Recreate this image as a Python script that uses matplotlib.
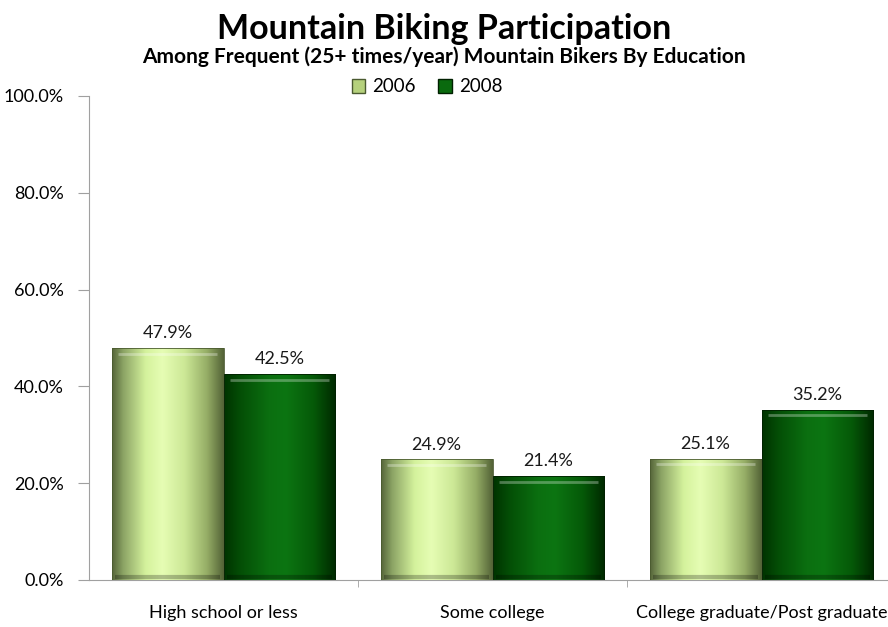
import matplotlib
matplotlib.use("Agg")
import matplotlib.pyplot as plt
import numpy as np
from matplotlib.colors import LinearSegmentedColormap
from matplotlib.patches import Patch

categories = ["High school or less", "Some college", "College graduate/Post graduate"]
years = ["2006", "2008"]
values_2006 = [47.9, 24.9, 25.1]
values_2008 = [42.5, 21.4, 35.2]
yticks = [0, 20, 40, 60, 80, 100]

plt.rcParams['font.family'] = ['Lato', 'DejaVu Sans']

fig = plt.figure(figsize=(8.88, 6.27), dpi=100)
ax = fig.add_axes([89/888, 1-580/627, 807/888, 484/627])

x = np.arange(len(categories))
w = 0.416

cmap06 = LinearSegmentedColormap.from_list("c06", [
    (0.0, "#55653a"), (0.1, "#8ca465"), (0.3, "#d4f29c"), (0.45, "#e6fdb4"),
    (0.65, "#cce896"), (0.85, "#95ad66"), (1.0, "#536236")])
cmap08 = LinearSegmentedColormap.from_list("c08", [
    (0.0, "#003300"), (0.15, "#044f06"), (0.4, "#0b6f10"), (0.55, "#0c7512"),
    (0.8, "#055a08"), (1.0, "#002800")])

grad = np.linspace(0, 1, 256).reshape(1, -1)

def draw(xpos, vals, cmap, edge):
    bars = ax.bar(xpos, vals, w, color="none", edgecolor=edge, linewidth=0.6, zorder=3)
    for b in bars:
        x0, y0 = b.get_x(), b.get_y()
        bw, bh = b.get_width(), b.get_height()
        im = ax.imshow(grad, cmap=cmap, aspect="auto", extent=[x0, x0+bw, y0, y0+bh],
                       zorder=2, interpolation="bicubic")
        im.set_clip_path(b)
        ax.plot([x0+bw*0.06, x0+bw*0.94], [y0+bh-1.2, y0+bh-1.2], color="white",
                alpha=0.3, lw=2, zorder=4, solid_capstyle="butt")
        ax.plot([x0+bw*0.03, x0+bw*0.97], [y0+0.6, y0+0.6], color="black",
                alpha=0.25, lw=3, zorder=4, solid_capstyle="butt")
    return bars

draw(x - w/2, values_2006, cmap06, "#4a5a30")
draw(x + w/2, values_2008, cmap08, "#002000")

for xs, vals in ((x - w/2, values_2006), (x + w/2, values_2008)):
    for xi, v in zip(xs, vals):
        ax.annotate(f"{v:.1f}%", (xi, v), xytext=(0, 5), textcoords="offset points",
                    ha="center", va="bottom", fontsize=13, color="#1a1a1a")

ax.set_xlim(-0.5, 2.5)
ax.set_ylim(0, 100)
ax.set_yticks(yticks)
ax.set_yticklabels([f"{t:.1f}%" for t in yticks], fontsize=13)
ax.set_xticks(x)
ax.set_xticklabels(categories, fontsize=13)
ax.set_xticks([0.5, 1.5], minor=True)
ax.tick_params(axis="x", which="major", length=0, pad=18)
ax.tick_params(axis="x", which="minor", length=5, color="#a0a0a0")
ax.tick_params(axis="y", length=8, color="#a0a0a0", pad=10)
for s in ("top", "right"):
    ax.spines[s].set_visible(False)
for s in ("left", "bottom"):
    ax.spines[s].set_color("#a0a0a0")

handles = [Patch(facecolor="#b5d17c", edgecolor="#4a5a30", label=years[0]),
           Patch(facecolor="#0a6a0e", edgecolor="#002000", label=years[1])]
fig.legend(handles=handles, loc="center", bbox_to_anchor=(0.481, 1-87/627), ncol=2,
           frameon=False, fontsize=13.5, handlelength=0.7, handleheight=0.7,
           handletextpad=0.4, columnspacing=1.2)

fig.text(0.5, 1-29/627, "Mountain Biking Participation", ha="center", va="center",
         fontsize=24.5, fontweight="bold")
fig.text(0.5, 1-57/627, "Among Frequent (25+ times/year) Mountain Bikers By Education",
         ha="center", va="center", fontsize=15, fontweight="bold")

fig.savefig("out.png", dpi=100)
